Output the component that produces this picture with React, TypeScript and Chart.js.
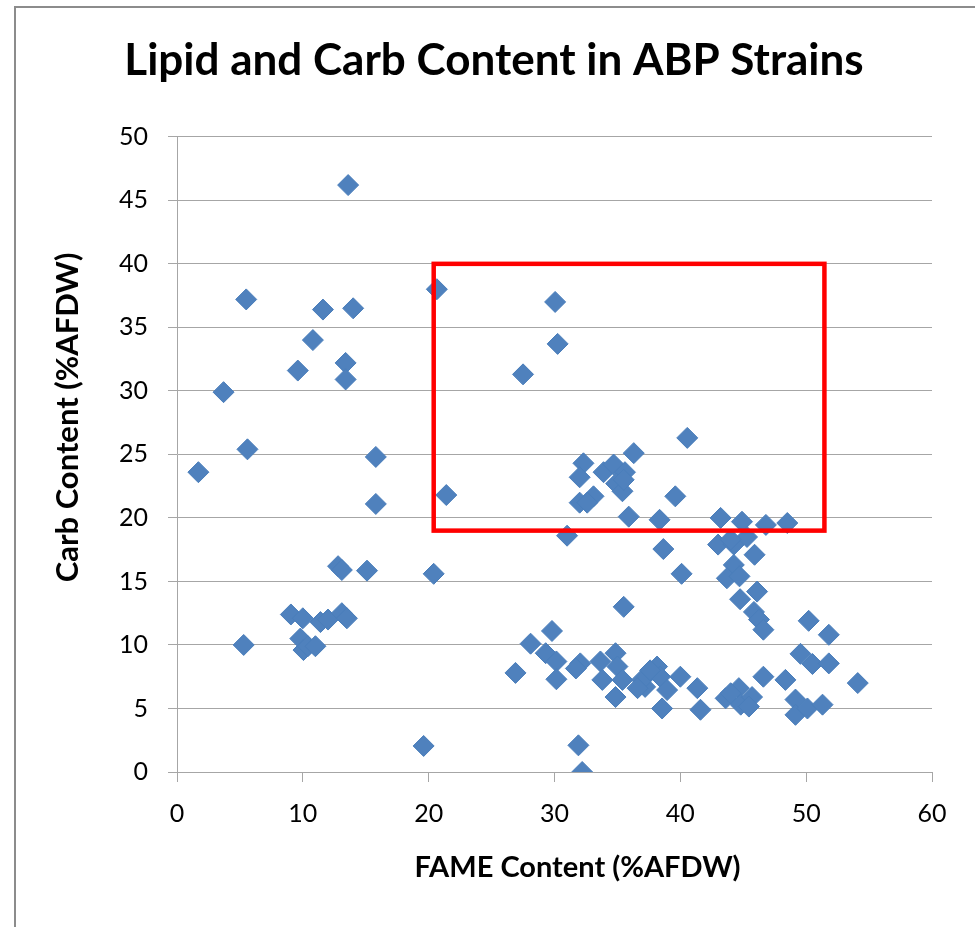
import { useEffect, useRef } from "react";
import { Chart, registerables } from "chart.js";

Chart.register(...registerables);

const chartTitle = "Lipid and Carb Content in ABP Strains";
const xAxisTitle = "FAME Content (%AFDW)";
const yAxisTitle = "Carb Content (%AFDW)";

// FAME content (x) and carb content (y), %AFDW, per strain
const fameContent: number[] = [
  1.7, 3.7, 5.5, 5.6, 5.3, 9.6, 10.8, 11.6, 14.0, 13.6, 13.4, 13.4, 15.8, 15.8,
  9.05, 10.0, 11.4, 12.0, 13.1, 13.5, 9.8, 10.05, 10.4, 11.0, 12.8, 13.1, 15.1,
  20.4, 19.6, 20.65, 21.4,
  30.05, 30.25, 27.5, 31.0, 36.3, 40.55, 32.3, 32.0, 33.9, 34.7, 35.6, 34.9, 35.4,
  35.5, 32.0, 33.1, 32.6, 35.9, 39.6, 38.35, 38.65, 40.1,
  43.2, 44.9, 46.8, 48.5, 43.0, 44.25, 45.3, 44.0, 45.9, 44.25, 43.7, 44.7, 46.1,
  44.75, 45.85, 46.25, 46.6, 50.2, 51.8, 49.55, 50.5, 51.8, 54.1, 46.6, 48.35,
  35.5, 29.8, 28.1, 26.9, 29.3, 30.15, 30.15, 32.05, 31.7, 33.65, 34.85, 35.0,
  33.8, 35.4, 34.85, 37.2, 38.15, 38.4, 38.95, 40.0, 41.35, 38.55, 41.6, 31.9,
  32.2, 36.95, 36.6, 37.6,
  43.6, 44.65, 44.8, 45.7, 44.0, 45.45, 49.15, 49.15, 50.1, 51.3,
];
const carbContent: number[] = [
  23.6, 29.9, 37.2, 25.4, 10.0, 31.6, 34.0, 36.4, 36.5, 46.2, 32.2, 30.9, 24.8, 21.1,
  12.4, 12.1, 11.8, 12.0, 12.5, 12.1, 10.5, 9.6, 9.9, 9.9, 16.2, 15.9, 15.85,
  15.6, 2.05, 38.0, 21.8,
  37.0, 33.7, 31.3, 18.6, 25.1, 26.3, 24.3, 23.2, 23.6, 24.2, 23.6, 22.7, 22.1,
  23.0, 21.2, 21.7, 21.2, 20.1, 21.7, 19.85, 17.55, 15.6,
  20.0, 19.7, 19.45, 19.6, 17.9, 17.9, 18.5, 18.3, 17.1, 16.3, 15.25, 15.4, 14.2,
  13.6, 12.6, 12.0, 11.2, 11.9, 10.8, 9.3, 8.5, 8.55, 7.0, 7.5, 7.25,
  13.0, 11.1, 10.1, 7.8, 9.35, 8.7, 7.3, 8.55, 8.15, 8.7, 9.35, 8.3,
  7.25, 7.25, 5.9, 6.7, 8.3, 7.5, 6.45, 7.5, 6.6, 5.0, 4.9, 2.1,
  0.0, 7.25, 6.6, 8.0,
  5.8, 6.6, 5.3, 5.9, 6.2, 5.15, 5.7, 4.5, 5.0, 5.3,
];

const xRange = [0, 60];
const xStep = 10;
const yRange = [0, 50];
const yStep = 5;

// highlighted region (red box), in data units
const boxFame = [20.4, 51.45];
const boxCarb = [19.0, 40.0];

const FONT = "Lato, 'Open Sans', sans-serif";

const framePlugin = {
  id: "frameBorder",
  beforeDraw(chart: any) {
    const ctx = chart.ctx;
    ctx.save();
    ctx.fillStyle = "#ffffff";
    ctx.fillRect(0, 0, chart.width, chart.height);
    ctx.strokeStyle = "#8C8C8C";
    ctx.lineWidth = 2;
    ctx.beginPath();
    ctx.moveTo(15, chart.height);
    ctx.lineTo(15, 7);
    ctx.lineTo(chart.width, 7);
    ctx.stroke();
    ctx.restore();
  },
};

const axisTitlePlugin = {
  id: "axisTitles",
  afterDraw(chart: any) {
    const ctx = chart.ctx;
    const area = chart.chartArea;
    ctx.save();
    ctx.fillStyle = "#000000";
    ctx.textAlign = "center";
    ctx.textBaseline = "middle";
    ctx.font = `bold 29px ${FONT}`;
    ctx.fillText(xAxisTitle, (area.left + area.right) / 2 + 23, area.bottom + 96);
    ctx.translate(68, (area.top + area.bottom) / 2 - 37);
    ctx.rotate(-Math.PI / 2);
    ctx.font = `bold 31px ${FONT}`;
    ctx.fillText(yAxisTitle, 0, 0);
    ctx.restore();
  },
};

const boxPlugin = {
  id: "highlightBox",
  afterDatasetsDraw(chart: any) {
    const { x, y } = chart.scales;
    const ctx = chart.ctx;
    const l = x.getPixelForValue(boxFame[0]);
    const r = x.getPixelForValue(boxFame[1]);
    const t = y.getPixelForValue(boxCarb[1]);
    const b = y.getPixelForValue(boxCarb[0]);
    ctx.save();
    ctx.strokeStyle = "#FF0000";
    ctx.lineWidth = 4.5;
    ctx.strokeRect(l, t, r - l, b - t);
    ctx.restore();
  },
};

export default function App() {
  const ref = useRef<HTMLCanvasElement>(null);

  useEffect(() => {
    const points = fameContent.map((v, i) => ({ x: v, y: carbContent[i] }));
    const chart = new Chart(ref.current as HTMLCanvasElement, {
      type: "scatter",
      data: {
        datasets: [
          {
            label: "Strains",
            data: points,
            pointStyle: "rectRot",
            pointRadius: 10.5,
            pointHoverRadius: 10.5,
            backgroundColor: "#4F81BD",
            borderColor: "#4A7EBB",
            borderWidth: 1,
          },
        ],
      },
      options: {
        responsive: false,
        animation: false,
        devicePixelRatio: 1,
        layout: { padding: { left: 56, right: 43, top: 0, bottom: 0 } },
        plugins: {
          legend: { display: false },
          tooltip: { enabled: false },
          title: {
            display: true,
            text: chartTitle,
            color: "#000000",
            font: { family: FONT, size: 44, weight: "bold", lineHeight: 1.2 },
            padding: { top: 34, bottom: 50 },
          },
        },
        scales: {
          x: {
            type: "linear",
            min: xRange[0],
            max: xRange[1],
            afterFit(scale: any) {
              scale.height = 155;
            },
            ticks: {
              stepSize: xStep,
              color: "#000000",
              padding: 17,
              font: { family: FONT, size: 25 },
            },
            grid: {
              drawOnChartArea: false,
              drawTicks: true,
              tickLength: 10,
              color: "#A6A6A6",
            },
            border: { display: true, color: "#A6A6A6", width: 1 },
            title: { display: false },
          },
          y: {
            type: "linear",
            min: yRange[0],
            max: yRange[1],
            afterFit(scale: any) {
              scale.width = 121;
            },
            ticks: {
              stepSize: yStep,
              color: "#000000",
              padding: 20,
              font: { family: FONT, size: 25 },
            },
            grid: {
              drawOnChartArea: true,
              drawTicks: true,
              tickLength: 9,
              color: "#A6A6A6",
            },
            border: { display: true, color: "#A6A6A6", width: 1 },
            title: { display: false },
          },
        },
      },
      plugins: [framePlugin, boxPlugin, axisTitlePlugin],
    });
    return () => chart.destroy();
  }, []);

  return (
    <div style={{ position: "absolute", left: 0, top: 0, width: 975, height: 927 }}>
      <canvas ref={ref} width={975} height={927} style={{ display: "block" }} />
    </div>
  );
}
